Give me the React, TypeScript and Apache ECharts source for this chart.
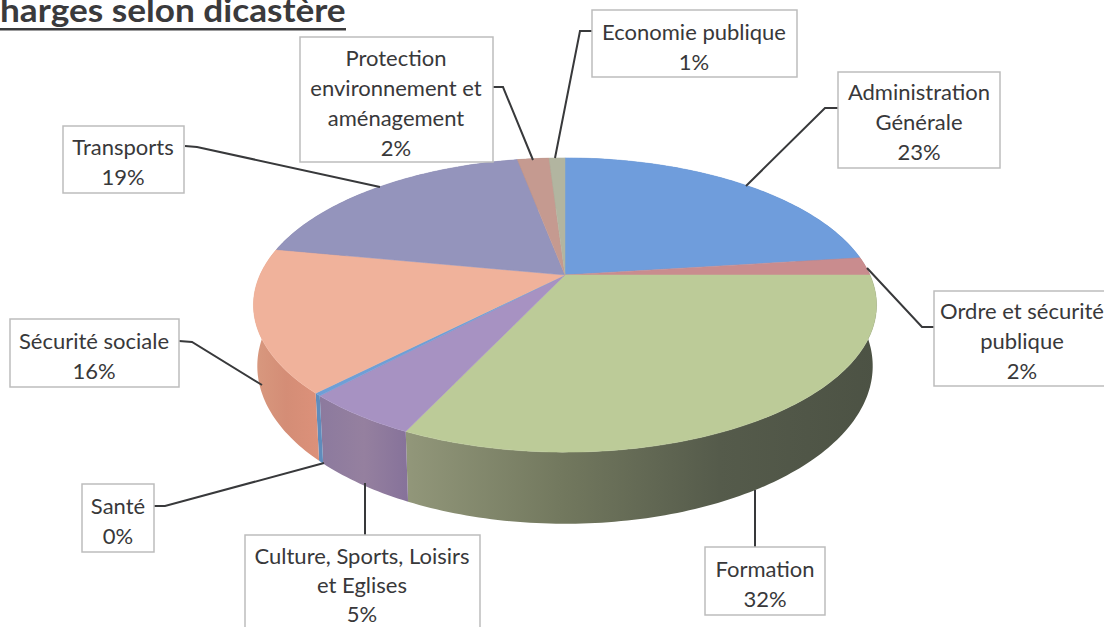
import React, { useEffect, useRef } from "react";
import * as echarts from "echarts";

const categories = [
  "Administration\nGénérale",
  "Ordre et sécurité\npublique",
  "Formation",
  "Culture, Sports, Loisirs\net Eglises",
  "Santé",
  "Sécurité sociale",
  "Transports",
  "Protection\nenvironnement et\naménagement",
  "Economie publique",
];
const values = [23, 2, 32, 5, 0.3, 15.7, 19, 2, 1];

const topColors = ["#6f9ddc", "#c98c8e", "#bccb98", "#a792c2", "#6f9fd6", "#f0b29b", "#9494bc", "#c59a90", "#b2b5a0"];
const wallColors: string[][] = [
  ["#4f7bb4", "#4f7bb4"],
  ["#9a6a6a", "#9a6a6a"],
  ["#92977a", "#72785e", "#555b4b", "#4c5244"],
  ["#8c7a9e", "#95809f", "#86729a"],
  ["#5f8cbc", "#5f8cbc"],
  ["#d8997f", "#d48d76", "#dc917a"],
  ["#75759a", "#75759a"],
  ["#9a7a70", "#9a7a70"],
  ["#8e907e", "#8e907e"],
];

const boxes = [
  { x: 838, y: 72, w: 162, h: 96, tx: 919, ty: 91, lh: 30, ln: [[838, 108], [825, 108], [746, 186]] },
  { x: 934, y: 291, w: 190, h: 95, tx: 1022, ty: 310, lh: 30, ln: [[934, 327], [922, 327], [867, 268]] },
  { x: 705, y: 547, w: 120, h: 68, tx: 765, ty: 568, lh: 30, ln: [[755, 547], [755, 490]] },
  { x: 245, y: 535, w: 235, h: 110, tx: 362, ty: 555, lh: 29, ln: [[365, 535], [365, 483]] },
  { x: 82, y: 484, w: 72, h: 68, tx: 118, ty: 505, lh: 30, ln: [[154, 506], [165, 506], [324, 463]] },
  { x: 10, y: 319, w: 169, h: 68, tx: 94, ty: 340, lh: 30, ln: [[179, 341], [192, 342], [262, 385]] },
  { x: 63, y: 126, w: 121, h: 67, tx: 123, ty: 146, lh: 30, ln: [[185, 146], [197, 147], [380, 187]] },
  { x: 300, y: 37, w: 193, h: 125, tx: 396, ty: 57, lh: 30, ln: [[493, 87], [503, 87], [533, 160]] },
  { x: 592, y: 10, w: 205, h: 67, tx: 694, ty: 31, lh: 30, ln: [[592, 31], [580, 31], [555, 158]] },
];

const CX = 565, CY = 275, R = 305, H = 141, K = 0.204, D = 60, M = 0.012;
const FONT = "Lato";
const total = values.reduce((a, b) => a + b, 0);

function project(frac: number, rad: number, w: number): number[] {
  const t = frac * Math.PI * 2;
  const u = Math.sin(t) * rad;
  const v = -Math.cos(t) * rad;
  const den = 1 - K * v + M * w;
  return [CX + (R * u) / den, CY + (H * v + D * w) / den];
}

function arc(a: number, b: number, w: number): number[][] {
  const n = Math.max(2, Math.ceil((b - a) * 360));
  const pts: number[][] = [];
  for (let i = 0; i <= n; i++) pts.push(project(a + ((b - a) * i) / n, 1, w));
  return pts;
}

export default function App() {
  const ref = useRef<HTMLDivElement>(null);
  useEffect(() => {
    const chart = echarts.init(ref.current!, null, { renderer: "svg" });
    let acc = 0;
    const data = values.map((v, i) => {
      const s = acc / total;
      acc += v;
      return [s, acc / total, i];
    });
    const graphic: any[] = [];
    categories.forEach((c, i) => {
      const b = boxes[i];
      graphic.push({
        type: "polyline", z: 20,
        shape: { points: b.ln },
        style: { stroke: "#38393b", lineWidth: 2, fill: "none" },
      });
      graphic.push({
        type: "rect", z: 21,
        shape: { x: b.x, y: b.y, width: b.w, height: b.h },
        style: { fill: "#ffffff", stroke: "#bdbdbd", lineWidth: 1.5 },
      });
      graphic.push({
        type: "text", z: 22, x: b.tx, y: b.ty - b.lh / 2,
        style: {
          text: c + "\n" + Math.round(values[i]) + "%",
          font: `22px ${FONT}`, fill: "#38383a",
          align: "center", verticalAlign: "top", lineHeight: b.lh,
        },
      });
    });
    graphic.push({
      type: "text", z: 22, x: 0, y: -5, scaleX: 1.1,
      style: { text: "harges selon dicastère", font: `bold 32px ${FONT}`, fill: "#3a3a3c", align: "left", verticalAlign: "top", lineHeight: 30 },
    });
    graphic.push({
      type: "rect", z: 22,
      shape: { x: 0, y: 28, width: 346, height: 2.5 },
      style: { fill: "#3a3a3c" },
    });

    chart.setOption({
      animation: false,
      backgroundColor: "#ffffff",
      graphic,
      series: [
        {
          type: "custom",
          coordinateSystem: "none",
          silent: true,
          z: 1,
          data,
          renderItem: (_p: any, api: any) => {
            const a = api.value(0), b = api.value(1), i = api.value(2);
            const pts = [...arc(a, b, 0), ...arc(a, b, 1).reverse()];
            const cs = wallColors[i];
            const fill = new echarts.graphic.LinearGradient(0, 0, 1, 0,
              cs.map((color, j) => ({ offset: j / (cs.length - 1), color })));
            return { type: "polygon", shape: { points: pts }, style: { fill, stroke: null } };
          },
        },
        {
          type: "custom",
          coordinateSystem: "none",
          silent: true,
          z: 2,
          data,
          renderItem: (_p: any, api: any) => {
            const a = api.value(0), b = api.value(1), i = api.value(2);
            const pts = [project(0, 0, 0), ...arc(a, b, 0)];
            return { type: "polygon", shape: { points: pts }, style: { fill: topColors[i], stroke: topColors[i], lineWidth: 0.5 } };
          },
        },
      ],
    });
    return () => chart.dispose();
  }, []);
  return <div ref={ref} style={{ position: "absolute", left: 0, top: 0, width: 1104, height: 627 }} />;
}
